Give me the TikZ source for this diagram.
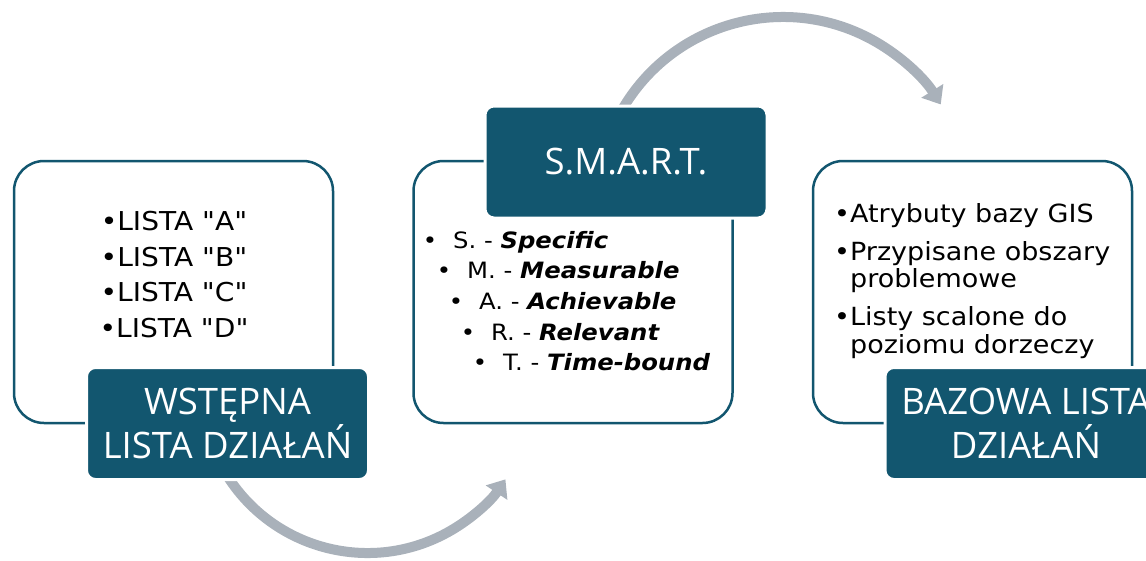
\documentclass[tikz,border=0pt]{standalone}
\usepackage{fontspec}
\setmainfont{DejaVu Sans}[FakeStretch=1.08, Ligatures=TeXOff]
\newfontfamily\titlefont{Open Sans}
\usetikzlibrary{arrows.meta,calc}
\definecolor{darkteal}{HTML}{12566F}
\definecolor{arrowgray}{HTML}{A9B1BA}
\newcommand\smartbul{\llap{•\hspace{16pt}}}
\tikzset{
  panel/.style={draw=darkteal, line width=2.5pt, rounded corners=30pt, fill=white,
    minimum width=319pt, minimum height=262pt, inner sep=0pt},
  titlebox/.style={fill=darkteal, draw=white, line width=3pt, rounded corners=9pt,
    minimum width=282pt, minimum height=112pt, text=white, align=center, inner sep=0pt,
    font=\titlefont\fontsize{36.5}{44}\selectfont},
  flow/.style={draw=arrowgray, line width=10pt, -{Triangle[width=25pt,length=16pt]}},
  listtext/.style={inner sep=0pt, text=black},
  smartline/.style={listtext, anchor=base west, font=\fontsize{22.5}{30}\selectfont}
}
\begin{document}
\begin{tikzpicture}[x=1pt,y=-1pt]
\useasboundingbox (0,0) rectangle (1146,560);
\clip (0,0) rectangle (1146,560);

% curved arrows (drawn first, boxes cover their starts)
\coordinate (topc) at (783,203);
\coordinate (botc) at (367.5,387);
\draw[flow] ($(topc)+(-150:186)$) arc[start angle=-150, end angle=-32, radius=186];
\draw[flow] ($(botc)+(150:166)$) arc[start angle=150, end angle=33.8, radius=166];

% white panels
\node[panel] (p1) at (173.5,292) {};
\node[panel] (p2) at (573,292) {};
\node[panel] (p3) at (972.5,292) {};

% left list
\node[listtext, anchor=north, align=center, font=\fontsize{26}{35.7}\selectfont] (l1) at (174,211)
  {•LISTA "A"\\•LISTA "B"\\•LISTA "C"\\•LISTA "D"};

% middle list
\node[smartline] (s1) at (453,248) {\smartbul S. - \textbf{\textit{Specific}}};
\node[smartline] (s2) at (467,278) {\smartbul M. - \textbf{\textit{Measurable}}};
\node[smartline] (s3) at (479,309) {\smartbul A. - \textbf{\textit{Achievable}}};
\node[smartline] (s4) at (491,340) {\smartbul R. - \textbf{\textit{Relevant}}};
\node[smartline] (s5) at (503,370) {\smartbul T. - \textbf{\textit{Time-bound}}};

% right list
\node[listtext, anchor=north west, align=left, font=\fontsize{25}{27.5}\selectfont] (r1) at (834,203)
  {•Atrybuty bazy GIS\\[10.5pt]
   •Przypisane obszary\\
   \hphantom{•}problemowe\\[10.5pt]
   •Listy scalone do\\
   \hphantom{•}poziomu dorzeczy};

% title boxes
\node[titlebox] (t1) at (227.5,423.5) {WSTĘPNA\\LISTA DZIAŁAŃ};
\node[titlebox] (t2) at (626,162) {S.M.A.R.T.};
\node[titlebox] (t3) at (1026,423.5) {BAZOWA LISTA\\DZIAŁAŃ};
\end{tikzpicture}
\end{document}
